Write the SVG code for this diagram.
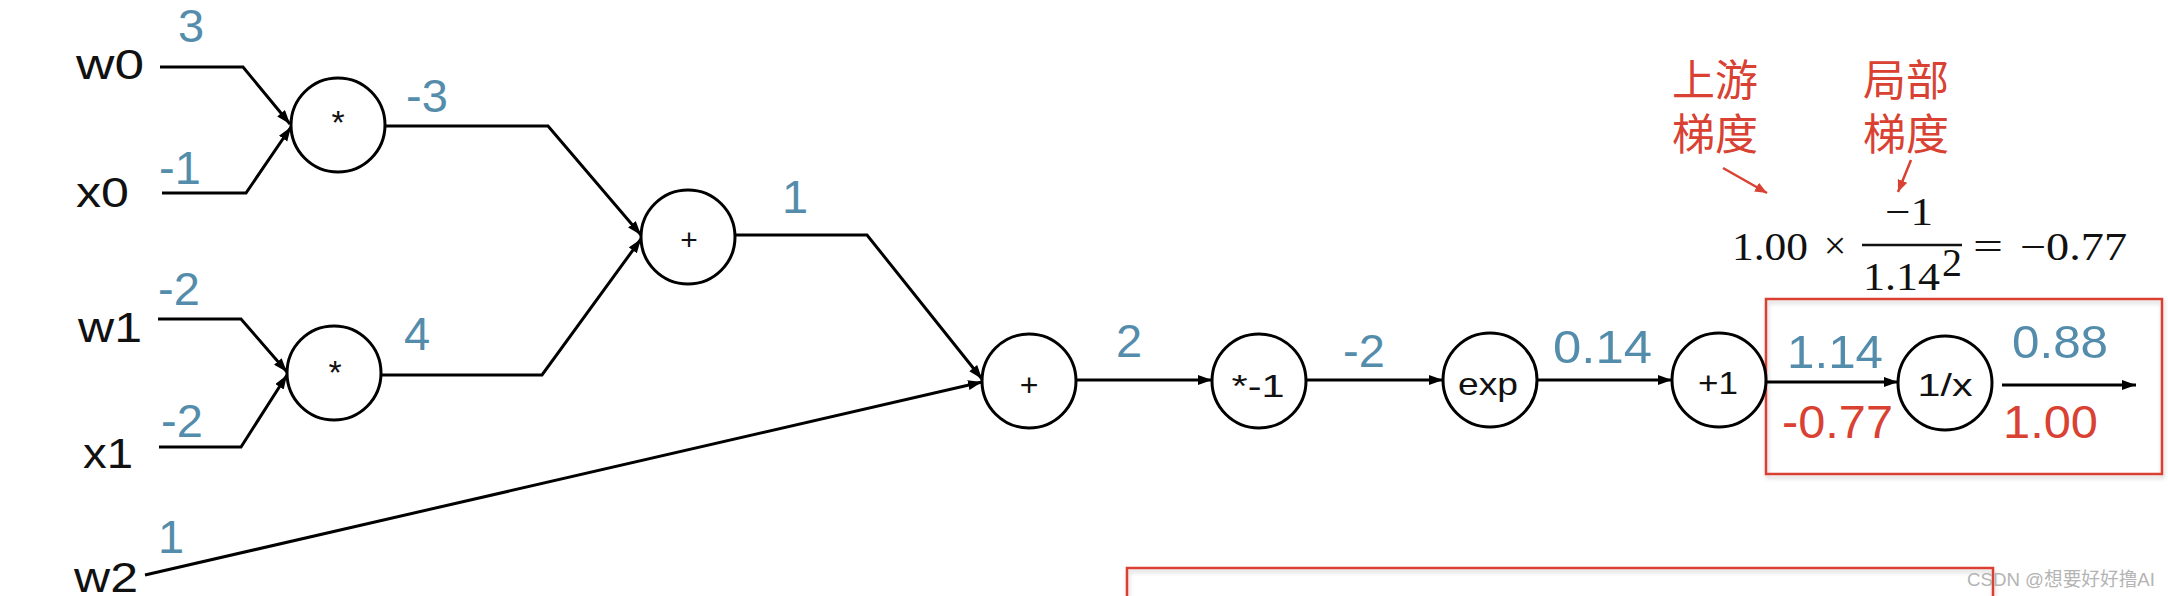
<svg xmlns="http://www.w3.org/2000/svg" width="2168" height="596" viewBox="0 0 2168 596">
<defs>
<style>
.node{fill:#fff;stroke:#000;stroke-width:3}
.var{font-family:"Liberation Sans",Arial,sans-serif;font-size:42px;fill:#111}
.op{font-family:"Liberation Sans",Arial,sans-serif;fill:#111;text-anchor:middle}
.val{font-family:"Liberation Sans",Arial,sans-serif;font-size:47px;fill:#548cab}
.grad{font-family:"Liberation Sans",Arial,sans-serif;font-size:47px;fill:#d94132}
.wire{fill:none;stroke:#000;stroke-width:3;stroke-linejoin:miter}
.note{font-family:"Noto Sans CJK SC",sans-serif;font-size:43px;fill:#d94132}
.math{font-family:"Liberation Serif","Times New Roman",serif;font-size:40px;fill:#111}
.redbox{fill:none;stroke:#d94132;stroke-width:2.5}
.redarrow{fill:none;stroke:#d94132;stroke-width:2.5}
</style>
<marker id="arr" markerUnits="userSpaceOnUse" markerWidth="16" markerHeight="12" refX="14" refY="5" orient="auto">
<path d="M0,0 L14,5 L0,10 z" fill="#000"/>
</marker>
<marker id="rarr" markerUnits="userSpaceOnUse" markerWidth="14" markerHeight="12" refX="12" refY="5" orient="auto">
<path d="M0,0 L12,5 L0,10 z" fill="#d94132"/>
</marker>
<filter id="sh" x="-5%" y="-5%" width="110%" height="115%">
<feDropShadow dx="1" dy="3" stdDeviation="2" flood-color="#000" flood-opacity="0.18"/>
</filter>
</defs>
<rect width="2168" height="596" fill="#fff"/>

<g id="boxes">
<rect class="redbox" x="1766" y="299" width="396" height="175" filter="url(#sh)"/>
<rect class="redbox" x="1127" y="568" width="866" height="60" filter="url(#sh)"/>
</g>

<g id="connectors">
<polyline class="wire" points="160,67 243,67 290,124" marker-end="url(#arr)"/>
<polyline class="wire" points="162,193 246,193 291,127" marker-end="url(#arr)"/>
<polyline class="wire" points="158,319 241,319 287,372" marker-end="url(#arr)"/>
<polyline class="wire" points="159,447 241,447 287,375" marker-end="url(#arr)"/>
<polyline class="wire" points="385,126 548,126 641,235" marker-end="url(#arr)"/>
<polyline class="wire" points="381,375 542,375 641,239" marker-end="url(#arr)"/>
<polyline class="wire" points="735,235 867,235 982,379" marker-end="url(#arr)"/>
<line class="wire" x1="145" y1="575" x2="982" y2="382" marker-end="url(#arr)"/>
<line class="wire" x1="1076" y1="380" x2="1212" y2="380" marker-end="url(#arr)"/>
<line class="wire" x1="1306" y1="380" x2="1443" y2="380" marker-end="url(#arr)"/>
<line class="wire" x1="1537" y1="380" x2="1672" y2="380" marker-end="url(#arr)"/>
<line class="wire" x1="1766" y1="382" x2="1898" y2="382" marker-end="url(#arr)"/>
<line class="wire" x1="2002" y1="385" x2="2136" y2="385" marker-end="url(#arr)"/>
</g>

<g id="inputs">
<text class="var" x="76" y="79" textLength="68" lengthAdjust="spacingAndGlyphs">w0</text>
<text class="var" x="76" y="207" textLength="53" lengthAdjust="spacingAndGlyphs">x0</text>
<text class="var" x="78" y="342" textLength="64" lengthAdjust="spacingAndGlyphs">w1</text>
<text class="var" x="83" y="468" textLength="50" lengthAdjust="spacingAndGlyphs">x1</text>
<text class="var" x="74" y="592" textLength="64" lengthAdjust="spacingAndGlyphs">w2</text>
</g>

<g id="node-mul0"><circle class="node" cx="338" cy="125" r="47"/><text class="op" x="338" y="134" font-size="34">*</text></g>
<g id="node-mul1"><circle class="node" cx="334" cy="373" r="47"/><text class="op" x="335" y="384" font-size="34">*</text></g>
<g id="node-add0"><circle class="node" cx="688" cy="237" r="47"/><text class="op" x="689" y="250" font-size="30">+</text></g>
<g id="node-add1"><circle class="node" cx="1029" cy="381" r="47"/><text class="op" x="1029" y="396" font-size="32">+</text></g>
<g id="node-neg"><circle class="node" cx="1259" cy="381" r="47"/><text class="op" x="1258" y="397" font-size="32" textLength="53" lengthAdjust="spacingAndGlyphs">*-1</text></g>
<g id="node-exp"><circle class="node" cx="1490" cy="380" r="47"/><text class="op" x="1488" y="395" font-size="32" textLength="60" lengthAdjust="spacingAndGlyphs">exp</text></g>
<g id="node-plus1"><circle class="node" cx="1719" cy="380" r="47"/><text class="op" x="1718" y="394" font-size="31" textLength="40" lengthAdjust="spacingAndGlyphs">+1</text></g>
<g id="node-recip"><circle class="node" cx="1945" cy="383" r="47"/><text class="op" x="1945" y="396" font-size="32" textLength="55" lengthAdjust="spacingAndGlyphs">1/x</text></g>

<g id="values">
<text class="val" x="178" y="42">3</text>
<text class="val" x="159" y="184">-1</text>
<text class="val" x="158" y="305">-2</text>
<text class="val" x="161" y="437">-2</text>
<text class="val" x="158" y="553">1</text>
<text class="val" x="406" y="112">-3</text>
<text class="val" x="404" y="350">4</text>
<text class="val" x="782" y="213">1</text>
<text class="val" x="1116" y="357">2</text>
<text class="val" x="1343" y="367">-2</text>
<text class="val" x="1553" y="363" textLength="99" lengthAdjust="spacingAndGlyphs">0.14</text>
<text class="val" x="1787" y="368" textLength="96" lengthAdjust="spacingAndGlyphs">1.14</text>
<text class="val" x="2012" y="358" textLength="96" lengthAdjust="spacingAndGlyphs">0.88</text>
<text class="grad" x="1782" y="438" textLength="111" lengthAdjust="spacingAndGlyphs">-0.77</text>
<text class="grad" x="2003" y="438" textLength="95" lengthAdjust="spacingAndGlyphs">1.00</text>
</g>

<g id="annotation">
<text class="note" x="1672" y="96">上游</text>
<text class="note" x="1672" y="150">梯度</text>
<text class="note" x="1863" y="96">局部</text>
<text class="note" x="1863" y="150">梯度</text>
<line class="redarrow" x1="1723" y1="168" x2="1767" y2="193" marker-end="url(#rarr)"/>
<line class="redarrow" x1="1911" y1="160" x2="1898" y2="192" marker-end="url(#rarr)"/>
</g>

<g id="formula">
<text class="math" x="1732" y="260" textLength="76" lengthAdjust="spacingAndGlyphs">1.00</text>
<text class="math" x="1835" y="259" text-anchor="middle" font-size="44">×</text>
<text class="math" x="1909" y="225" text-anchor="middle" textLength="48" lengthAdjust="spacingAndGlyphs">−1</text>
<line x1="1862" y1="245" x2="1962" y2="245" stroke="#111" stroke-width="2.5"/>
<text class="math" x="1863" y="290" textLength="77" lengthAdjust="spacingAndGlyphs">1.14</text>
<text class="math" x="1942" y="276" font-size="22">2</text>
<text class="math" x="1988" y="260" text-anchor="middle" font-size="44" textLength="30" lengthAdjust="spacingAndGlyphs">=</text>
<text class="math" x="2020" y="260" textLength="107" lengthAdjust="spacingAndGlyphs">−0.77</text>
</g>

<text x="1967" y="586" font-family="Liberation Sans,'Noto Sans CJK SC',sans-serif" font-size="19" fill="#b4b4b4" textLength="188" lengthAdjust="spacingAndGlyphs">CSDN @想要好好撸AI</text>
</svg>
